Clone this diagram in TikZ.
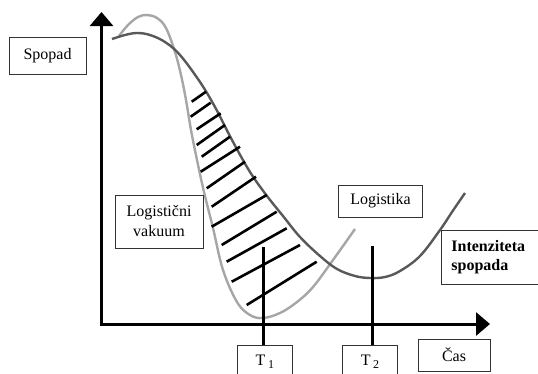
\documentclass[tikz,border=0pt]{standalone}
\usepackage{fontspec}
\setmainfont{Liberation Serif}
\usetikzlibrary{arrows.meta}
\begin{document}
\begin{tikzpicture}[x=1pt,y=-1pt,
  lbl/.style={draw=black!80, line width=0.8pt, inner sep=0pt, align=center,
              font=\fontsize{16}{20}\selectfont},
  axis/.style={line width=3pt, line join=miter,
               {Triangle[length=14pt,width=23pt]}-{Triangle[length=14pt,width=23pt]}},
  tline/.style={line width=2.4pt},
  hatch/.style={line width=2.6pt},
  darkcurve/.style={draw=black!65, line width=2.4pt},
  lightcurve/.style={draw=black!35, line width=2.4pt},
]
\useasboundingbox (0,0) rectangle (538,373);
\clip (0,0) rectangle (538,373);

% curves
\draw[lightcurve] plot[smooth, tension=0.6] coordinates {
  (119,36) (128,25) (138,17) (147,15) (157,18) (166,28) (175,52) (181,75)
  (186,100) (191,130) (197,160) (204,192) (213,228) (223,270) (237,302)
  (250,315) (263,318) (280,313) (297,302) (313,287) (333,260) (355,229)};
\draw[darkcurve] plot[smooth, tension=0.6] coordinates {
  (112,39) (125,35) (137,33) (150,35) (165,42) (180,55) (200,82) (215,107)
  (232,140) (250,172) (267,196) (283,216) (300,237) (320,256) (337,269)
  (355,276) (370,278) (385,277) (400,271) (420,256) (440,230) (452,212) (465,193)};

% hatching
\foreach \a/\b/\c/\d in {
  191.7/101.7/206/91.7,
  190.7/116.7/210.7/102.7,
  196.7/129.3/220.7/113.3,
  196.7/145/225/125,
  201.7/156.7/230/136.7,
  200.7/171.7/240/146.7,
  206.7/188.3/245/161.7,
  211.7/206.7/256/176.7,
  211.7/226.7/266.7/195,
  221.7/245/276.7/211.7,
  226.7/261.7/286.7/228.3,
  231.7/281.7/300/245,
  246.7/305/316.7/261.7}
  \draw[hatch] (\a,\b) -- (\c,\d);

% axes
\coordinate (o) at (101.5,324);
\coordinate (ytip) at (101.5,12);
\coordinate (xtip) at (490,324);
\draw[axis] (ytip) -- (o) -- (xtip);

% labels
\node[lbl, minimum width=77pt, minimum height=37pt] (spopad) at (47.5,55.5) {Spopad};
\node[lbl, minimum width=88pt, minimum height=53pt, fill=white] (vakuum) at (159,221.5) {Logistični\\vakuum};
\node[lbl, minimum width=84.5pt, minimum height=32pt] (logistika) at (380.5,201) {Logistika};
\node[lbl, anchor=west, text width=84pt, inner xsep=10pt, align=left,
      minimum height=54pt, font=\fontsize{16}{19}\selectfont\bfseries, fill=white]
      (intenz) at (441,257) {Intenziteta\\spopada};
\node[lbl, minimum width=55pt, minimum height=34pt] (t1) at (264.8,362) {T\,\raisebox{-2.5pt}{\fontsize{12}{12}\selectfont 1}};
\node[lbl, minimum width=54.6pt, minimum height=34pt] (t2) at (370,362) {T\,\raisebox{-2.5pt}{\fontsize{12}{12}\selectfont 2}};
\node[lbl, minimum width=72pt, minimum height=32pt] (cas) at (454,355) {Čas};

% time markers
\coordinate (t1top) at (263.5,247);
\coordinate (t2top) at (372.5,246);
\draw[tline] (t1.north -| t1top) -- (t1top);
\draw[tline] (t2.north -| t2top) -- (t2top);
\end{tikzpicture}
\end{document}
